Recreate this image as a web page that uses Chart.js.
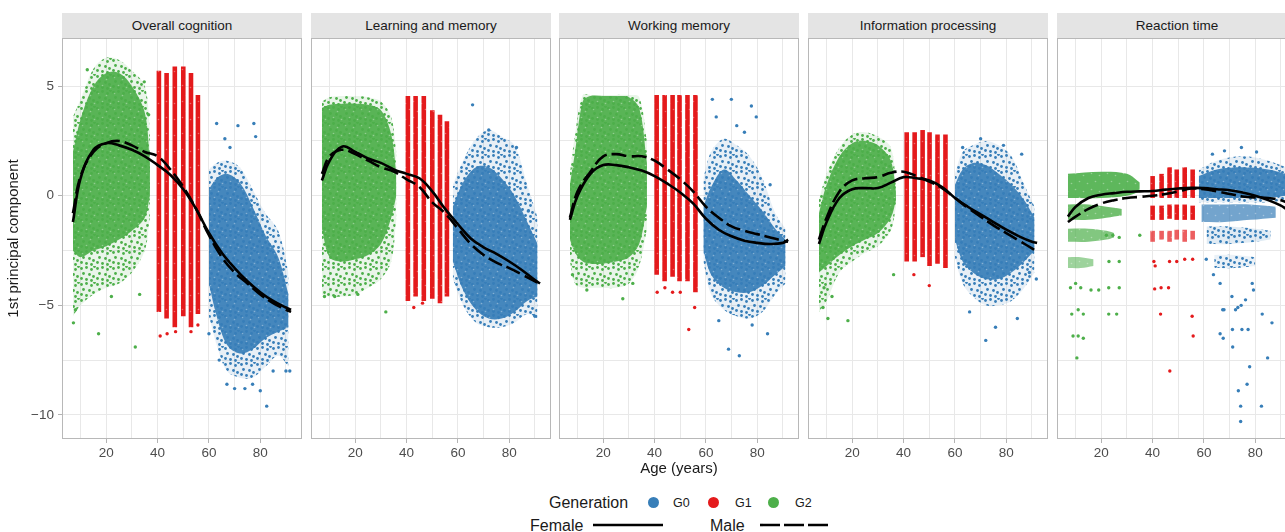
<!DOCTYPE html>
<html>
<head>
<meta charset="utf-8">
<script src="https://cdn.jsdelivr.net/npm/chart.js@4.4.1/dist/chart.umd.min.js"></script>
<style>
html, body { margin:0; padding:0; overflow:hidden; }
body { width:1285px; height:532px; position:relative; background:#fff; font-family:"Liberation Sans", Arial, sans-serif; color:#1a1a1a; }
canvas { position:absolute; }
.strip { position:absolute; top:13px; height:25px; width:240px; background:#e4e4e4; font-size:13.5px; line-height:25px; text-align:center; color:#1a1a1a; }
.txt { position:absolute; white-space:nowrap; }
.dot { position:absolute; width:11px; height:11px; border-radius:50%; }
</style>
</head>
<body>
<script>
// x positions where the smooth lines were read
const lineAges = [7, 10, 15, 20, 25, 30, 35, 40, 45, 50, 55, 60, 65, 70, 75, 80, 85, 90, 92];

// ---- Overall cognition ----
const ocFemale = [-1.2, 0.8, 2.1, 2.4, 2.3, 2.1, 1.8, 1.4, 0.95, 0.3, -0.6, -1.7, -2.6, -3.3, -3.9, -4.4, -4.8, -5.1, -5.2];
const ocMale   = [-0.8, 0.9, 2.0, 2.4, 2.5, 2.3, 2.0, 1.8, 1.2, 0.4, -0.6, -1.8, -2.8, -3.5, -4.0, -4.5, -4.9, -5.2, -5.3];
const ocG2Age = [7, 10, 15, 20, 25, 30, 35, 37];
const ocG2Hi = [3.6, 4.4, 5.8, 6.3, 6.2, 5.7, 5.0, 3.0];
const ocG2Lo = [-5.5, -5.0, -4.5, -4.2, -4.0, -3.5, -2.5, -1.0];
const ocG2CoreHi = [2.0, 3.5, 5.0, 5.6, 5.6, 5.0, 3.8, 1.5];
const ocG2CoreLo = [-2.5, -2.8, -2.5, -2.3, -2.0, -1.6, -1.0, 0.0];
const ocG1Age = [40.5, 43.5, 46.7, 50, 53, 55.7];
const ocG1Hi = [5.7, 5.6, 5.9, 5.9, 5.6, 4.6];
const ocG1Lo = [-5.3, -5.6, -6.0, -5.5, -6.0, -5.4];
const ocG0Age = [60, 63, 67, 72, 77, 82, 87, 91];
const ocG0Hi = [1.2, 1.5, 1.6, 1.3, 0.3, -0.8, -1.6, -3.5];
const ocG0Lo = [-5.5, -6.8, -8.0, -8.3, -8.3, -7.8, -7.3, -7.8];
const ocG0CoreHi = [0.3, 0.8, 1.0, 0.6, -0.5, -1.8, -2.8, -4.5];
const ocG0CoreLo = [-4.0, -5.5, -6.8, -7.2, -7.0, -6.5, -6.2, -6.0];
const ocG2Out = [[7.2, -5.8], [8, -5.2], [17, -6.3], [31.3, -6.9], [12.6, 5.75], [34.8, 5.2], [36.5, 3.7], [33, -4.5], [22, -4.6]];
const ocG1Out = [[41, -6.4], [43.7, -6.3], [53, -6.2], [47, -6.2], [55.7, -5.9]];
const ocG0Out = [[63, 3.3], [71.3, 3.2], [77.5, 3.3], [78.2, 2.7], [66.2, 2.6], [68.2, 2.2], [67, -8.6], [70, -8.8], [74, -8.8], [77, -8.6], [80, -8.9], [82.5, -9.6], [85, -8.0], [90, -8.0], [91.5, -8.0], [64, -7.5], [60, -6.3]];

// ---- Learning and memory ----
const lmFemale = [0.7, 1.6, 2.25, 2.0, 1.7, 1.5, 1.2, 1.0, 0.8, 0.2, -0.6, -1.3, -1.95, -2.35, -2.65, -3.0, -3.4, -3.85, -4.0];
const lmMale   = [1.0, 1.8, 2.1, 1.9, 1.6, 1.3, 1.1, 0.75, 0.4, -0.3, -0.8, -1.5, -2.2, -2.7, -3.05, -3.3, -3.6, -3.9, -4.0];
const lmG2Age = [7, 10, 15, 20, 25, 30, 34, 36];
const lmG2Hi = [4.3, 4.5, 4.55, 4.55, 4.5, 4.3, 3.6, 2.0];
const lmG2Lo = [-4.5, -4.6, -4.6, -4.5, -4.2, -3.8, -3.0, -1.0];
const lmG2CoreHi = [4.0, 4.15, 4.2, 4.2, 4.15, 3.9, 2.8, 1.0];
const lmG2CoreLo = [-1.5, -2.8, -3.0, -2.9, -2.7, -2.2, -1.0, 0.0];
const lmG1Age = [40.5, 43.5, 46.7, 50, 53, 55.7];
const lmG1Hi = [4.55, 4.55, 4.55, 3.9, 3.7, 3.4];
const lmG1Lo = [-4.8, -4.6, -4.8, -4.7, -4.9, -4.6];
const lmG0Age = [58, 62, 67, 72, 77, 82, 87, 91];
const lmG0Hi = [0.5, 1.6, 2.6, 3.0, 2.7, 2.3, 0.5, -1.0];
const lmG0Lo = [-3.8, -5.0, -5.8, -6.0, -6.0, -5.8, -5.4, -5.6];
const lmG0CoreHi = [-0.5, 0.6, 1.3, 1.3, 0.8, 0.0, -1.2, -2.2];
const lmG0CoreLo = [-3.0, -4.3, -5.2, -5.6, -5.6, -5.3, -4.8, -4.6];
const lmG2Out = [[31.9, -5.3], [8, -4.6], [12, -4.6], [21, -4.5]];
const lmG1Out = [[42.8, -5.1], [46.2, -4.9]];
const lmG0Out = [[65.7, 4.15], [72, 3.0], [82.8, 2.2], [87.4, -0.7], [90, -5.5]];

// ---- Working memory ----
const wmFemale = [-1.1, 0.0, 1.0, 1.4, 1.4, 1.3, 1.15, 0.9, 0.55, 0.15, -0.35, -1.05, -1.55, -1.85, -2.05, -2.15, -2.2, -2.15, -2.0];
const wmMale   = [-1.0, 0.2, 1.1, 1.8, 1.9, 1.8, 1.8, 1.6, 1.2, 0.75, 0.2, -0.5, -1.0, -1.4, -1.6, -1.75, -1.9, -2.05, -2.1];
const wmG2Age = [7, 9, 12, 15, 20, 25, 30, 34, 37];
const wmG2Hi = [1.0, 2.8, 4.6, 4.6, 4.6, 4.6, 4.6, 4.5, 2.5];
const wmG2Lo = [-3.0, -4.0, -4.2, -4.2, -4.2, -4.2, -4.0, -3.2, -1.5];
const wmG2CoreHi = [0.5, 2.0, 4.3, 4.55, 4.55, 4.55, 4.5, 4.0, 1.5];
const wmG2CoreLo = [-2.0, -2.6, -3.0, -3.1, -3.1, -3.0, -2.8, -2.2, -0.5];
const wmG1Age = [40.8, 43.9, 47, 49.7, 52.8, 55.9];
const wmG1Hi = [4.6, 4.6, 4.6, 4.6, 4.6, 4.6];
const wmG1Lo = [-3.6, -3.9, -3.7, -3.9, -3.9, -4.4];
const wmG0Age = [59, 62, 67, 72, 77, 82, 87, 91];
const wmG0Hi = [0.8, 2.0, 2.6, 2.3, 1.8, 0.8, -0.8, -1.5];
const wmG0Lo = [-3.0, -4.5, -5.2, -5.5, -5.6, -5.3, -4.5, -4.0];
const wmG0CoreHi = [-0.5, 0.4, 1.2, 0.7, 0.0, -0.7, -1.5, -2.0];
const wmG0CoreLo = [-2.5, -3.6, -4.2, -4.4, -4.4, -4.1, -3.6, -3.2];
const wmG2Out = [[27.6, -4.7], [13.6, -4.3], [31.5, -4.0], [8, -3.6]];
const wmG1Out = [[53.3, -6.1], [55.6, -5.1], [41, -4.4], [44, -4.2], [47, -4.4], [50, -4.4]];
const wmG0Out = [[62.5, 4.4], [69.9, 4.4], [77.7, 4.1], [79.6, 3.6], [64, 3.6], [72, 3.2], [75, 2.9], [85, 0.5], [68.8, -7.0], [73, -7.3], [84, -6.3], [65, -5.7], [78, -5.9]];

// ---- Information processing ----
const ipFemale = [-2.2, -1.2, -0.1, 0.3, 0.35, 0.35, 0.6, 0.85, 0.8, 0.7, 0.4, -0.1, -0.5, -0.85, -1.2, -1.55, -1.85, -2.1, -2.15];
const ipMale   = [-2.0, -1.0, 0.2, 0.7, 0.8, 0.85, 1.05, 1.1, 0.9, 0.65, 0.35, -0.1, -0.55, -0.95, -1.35, -1.7, -2.05, -2.4, -2.55];
const ipG2Age = [7, 10, 15, 20, 25, 30, 35, 37];
const ipG2Hi = [-0.2, 1.0, 2.2, 2.8, 2.9, 2.7, 2.2, 0.5];
const ipG2Lo = [-5.3, -4.8, -3.5, -3.0, -2.6, -2.3, -1.6, -0.5];
const ipG2CoreHi = [-0.8, 0.5, 1.8, 2.4, 2.5, 2.3, 1.6, 0.2];
const ipG2CoreLo = [-3.5, -3.2, -2.7, -2.3, -2.0, -1.7, -1.0, -0.2];
const ipG1Age = [41.2, 44.3, 47.4, 50.1, 53.2, 56.3];
const ipG1Hi = [2.9, 2.9, 3.0, 2.9, 2.8, 2.8];
const ipG1Lo = [-3.0, -3.0, -2.8, -3.2, -3.1, -3.3];
const ipG0Age = [60, 63, 67, 72, 77, 82, 87, 91];
const ipG0Hi = [1.0, 2.0, 2.3, 2.5, 2.3, 1.8, 0.5, -0.5];
const ipG0Lo = [-2.8, -4.0, -4.6, -5.0, -5.0, -4.8, -4.2, -3.5];
const ipG0CoreHi = [0.5, 1.2, 1.5, 1.4, 1.0, 0.5, -0.2, -1.0];
const ipG0CoreLo = [-2.0, -3.0, -3.5, -3.8, -3.8, -3.5, -3.0, -2.5];
const ipG2Out = [[10.5, -5.6], [18.3, -5.7], [12.1, -4.6], [8.6, -5.1], [36.1, -3.6], [9, -4.2]];
const ipG1Out = [[50, -4.1], [44, -3.6]];
const ipG0Out = [[72, -6.6], [75.8, -6.0], [84.3, -5.6], [65.7, -5.3], [91.7, -3.8], [70, 2.6], [78.9, 2.3], [63, 2.2], [86, 1.9], [89, -3.5]];

// ---- Reaction time ----
const rtFemale = [-0.95, -0.5, -0.1, 0.05, 0.12, 0.18, 0.2, 0.22, 0.28, 0.33, 0.36, 0.35, 0.3, 0.25, 0.15, 0.0, -0.2, -0.45, -0.6];
const rtMale   = [-1.2, -0.95, -0.6, -0.35, -0.2, -0.1, -0.05, 0.0, 0.08, 0.2, 0.33, 0.3, 0.2, 0.08, -0.03, -0.08, -0.1, -0.2, -0.3];
const rtG2TopAge = [7, 20, 30, 35];
const rtG2TopHi = [1.0, 1.1, 1.0, 0.6];
const rtG2TopLo = [-0.1, -0.1, 0.0, 0.2];
const rtG2MidAge = [7, 15, 22, 28];
const rtG2MidHi = [-0.4, -0.4, -0.5, -0.6];
const rtG2MidLo = [-1.1, -1.1, -1.0, -0.9];
const rtG2LowAge = [7, 15, 22, 25];
const rtG2LowHi = [-1.5, -1.5, -1.6, -1.7];
const rtG2LowLo = [-2.1, -2.1, -2.0, -1.9];
const rtG2BotAge = [7, 12, 17];
const rtG2BotHi = [-2.8, -2.8, -2.9];
const rtG2BotLo = [-3.3, -3.3, -3.2];
const rtG1Age = [40, 43.5, 46.6, 49.4, 52.5, 55.6];
const rtG1TopHi = [0.9, 1.0, 1.3, 1.2, 1.3, 1.2];
const rtG1TopLo = [-0.1, -0.1, -0.1, -0.1, -0.1, -0.1];
const rtG1MidHi = [-0.45, -0.45, -0.4, -0.4, -0.4, -0.45];
const rtG1MidLo = [-1.1, -1.1, -1.05, -1.1, -1.1, -1.1];
const rtG1LowHi = [-1.6, -1.6, -1.6, -1.55, -1.55, -1.6];
const rtG1LowLo = [-2.1, -2.0, -2.1, -2.0, -2.1, -2.0];
const rtG0TopAge = [58, 65, 75, 85, 92];
const rtG0TopHi = [1.2, 1.6, 1.8, 1.6, 1.3];
const rtG0TopLo = [-0.3, -0.3, -0.3, -0.3, -0.2];
const rtG0CoreHi = [0.9, 1.2, 1.3, 1.2, 1.0];
const rtG0CoreLo = [-0.1, -0.1, -0.1, -0.1, 0.0];
const rtG0MidAge = [59, 68, 78, 88];
const rtG0MidHi = [-0.4, -0.4, -0.4, -0.5];
const rtG0MidLo = [-1.2, -1.2, -1.1, -1.0];
const rtG0LowAge = [61, 70, 80, 86];
const rtG0LowHi = [-1.4, -1.4, -1.5, -1.6];
const rtG0LowLo = [-2.2, -2.2, -2.1, -2.0];
const rtG0BotAge = [64, 72, 80];
const rtG0BotHi = [-2.7, -2.7, -2.8];
const rtG0BotLo = [-3.3, -3.3, -3.2];
const rtG2Out = [[22, -1.8], [24.5, -1.8], [27, -1.9], [35, -1.8], [23, -3.0], [27, -3.0], [8, -4.2], [10, -4.0], [12, -4.2], [16, -4.3], [19, -4.3], [22.9, -4.2], [27, -4.2], [22.9, -5.4], [26, -5.4], [8.5, -5.4], [11, -5.2], [13, -5.4], [9, -6.4], [11, -6.4], [13, -6.5], [10.5, -7.4]];
const rtG1Out = [[40.5, -3.0], [41, -3.2], [46.6, -3.0], [49.4, -3.0], [52.5, -2.9], [55.6, -2.9], [40.8, -4.25], [43.3, -4.2], [46.2, -4.2], [43.1, -5.4], [55.4, -5.5], [55.8, -6.4], [46.7, -8.0]];
const rtG0Out = [[68, 2.05], [74.6, 2.2], [63.3, 1.9], [80.5, 2.0], [60.9, -2.9], [63.7, -3.6], [66.3, -4.0], [70.9, -4.6], [73.2, -5.1], [76.2, -4.75], [74.5, -5.0], [79.3, -4.3], [78.8, -4.0], [67.3, -5.2], [67.8, -5.2], [72.3, -5.2], [82.7, -5.4], [86.5, -5.8], [71.1, -6.1], [74.8, -6.1], [77.2, -6.1], [66.3, -6.3], [67.5, -6.5], [71.2, -6.9], [84.8, -7.4], [77.8, -7.8], [76.8, -8.6], [73.4, -8.9], [82.4, -9.6], [74.3, -9.6], [74.3, -10.3]];

// axis ticks
const xGrid = [10, 20, 30, 40, 50, 60, 70, 80, 90];
const xLabels = [20, 40, 60, 80];
const yGrid = [-10, -7.5, -5, -2.5, 0, 2.5, 5];
const yLabels = [-10, -5, 0, 5];

const G0 = '#377eb8', G1 = '#e41a1c', G2 = '#4daf4a';
const OUTER = 0.35, CORE = 0.92;
const FONT = '"Liberation Sans", Arial, sans-serif';

const panels = [
  { title: 'Overall cognition', female: ocFemale, male: ocMale,
    bands: [[ocG2Age, ocG2Hi, ocG2Lo, G2, OUTER], [ocG2Age, ocG2CoreHi, ocG2CoreLo, G2, CORE],
            [ocG0Age, ocG0Hi, ocG0Lo, G0, OUTER], [ocG0Age, ocG0CoreHi, ocG0CoreLo, G0, CORE]],
    stripes: [[ocG1Age, ocG1Hi, ocG1Lo, 1]],
    points: [[ocG2Out, G2], [ocG1Out, G1], [ocG0Out, G0]] },
  { title: 'Learning and memory', female: lmFemale, male: lmMale,
    bands: [[lmG2Age, lmG2Hi, lmG2Lo, G2, OUTER], [lmG2Age, lmG2CoreHi, lmG2CoreLo, G2, CORE],
            [lmG0Age, lmG0Hi, lmG0Lo, G0, OUTER], [lmG0Age, lmG0CoreHi, lmG0CoreLo, G0, CORE]],
    stripes: [[lmG1Age, lmG1Hi, lmG1Lo, 1]],
    points: [[lmG2Out, G2], [lmG1Out, G1], [lmG0Out, G0]] },
  { title: 'Working memory', female: wmFemale, male: wmMale,
    bands: [[wmG2Age, wmG2Hi, wmG2Lo, G2, OUTER], [wmG2Age, wmG2CoreHi, wmG2CoreLo, G2, CORE],
            [wmG0Age, wmG0Hi, wmG0Lo, G0, OUTER], [wmG0Age, wmG0CoreHi, wmG0CoreLo, G0, CORE]],
    stripes: [[wmG1Age, wmG1Hi, wmG1Lo, 1]],
    points: [[wmG2Out, G2], [wmG1Out, G1], [wmG0Out, G0]] },
  { title: 'Information processing', female: ipFemale, male: ipMale,
    bands: [[ipG2Age, ipG2Hi, ipG2Lo, G2, OUTER], [ipG2Age, ipG2CoreHi, ipG2CoreLo, G2, CORE],
            [ipG0Age, ipG0Hi, ipG0Lo, G0, OUTER], [ipG0Age, ipG0CoreHi, ipG0CoreLo, G0, CORE]],
    stripes: [[ipG1Age, ipG1Hi, ipG1Lo, 1]],
    points: [[ipG2Out, G2], [ipG1Out, G1], [ipG0Out, G0]] },
  { title: 'Reaction time', female: rtFemale, male: rtMale,
    bands: [[rtG2TopAge, rtG2TopHi, rtG2TopLo, G2, 0.9], [rtG2MidAge, rtG2MidHi, rtG2MidLo, G2, 0.8],
            [rtG2LowAge, rtG2LowHi, rtG2LowLo, G2, 0.7], [rtG2BotAge, rtG2BotHi, rtG2BotLo, G2, 0.55],
            [rtG0TopAge, rtG0TopHi, rtG0TopLo, G0, OUTER], [rtG0TopAge, rtG0CoreHi, rtG0CoreLo, G0, CORE],
            [rtG0MidAge, rtG0MidHi, rtG0MidLo, G0, 0.7], [rtG0LowAge, rtG0LowHi, rtG0LowLo, G0, 0.45],
            [rtG0BotAge, rtG0BotHi, rtG0BotLo, G0, 0.3]],
    stripes: [[rtG1Age, rtG1TopHi, rtG1TopLo, 1], [rtG1Age, rtG1MidHi, rtG1MidLo, 1], [rtG1Age, rtG1LowHi, rtG1LowLo, 0.7]],
    points: [[rtG2Out, G2], [rtG1Out, G1], [rtG0Out, G0]] }
];

const panelLeft = [62, 311, 559, 808, 1057];
const PLOT_W = 240, PLOT_H = 401, PLOT_TOP = 38, AXIS_H = 45, TOPPAD = 12, YAXIS_W = 62;

function rgba(hex, a) {
  const n = parseInt(hex.slice(1), 16);
  return 'rgba(' + (n >> 16) + ',' + ((n >> 8) & 255) + ',' + (n & 255) + ',' + a + ')';
}
function xy(xs, ys) { return xs.map((a, k) => ({ x: a, y: ys[k] })); }

// dotted fill so the clouds read like scatter, not flat shapes
const SPARSE_DOTS = [[1, 2], [6, 1], [11, 3], [14, 0], [3, 7], [9, 8], [13, 10], [1, 12], [6, 13], [11, 14]];
const CORE_HOLES = [[2, 3], [10, 5], [6, 11], [14, 13]];
function cloudPattern(hex, alpha) {
  const c = document.createElement('canvas');
  c.width = 16; c.height = 16;
  const g = c.getContext('2d');
  if (alpha >= 0.5) {
    g.fillStyle = rgba(hex, alpha);
    g.fillRect(0, 0, 16, 16);
    g.fillStyle = 'rgba(255,255,255,0.35)';
    CORE_HOLES.forEach(d => { g.beginPath(); g.arc(d[0] + 0.5, d[1] + 0.5, 0.8, 0, Math.PI * 2); g.fill(); });
  } else {
    g.fillStyle = rgba(hex, alpha * 0.35);
    g.fillRect(0, 0, 16, 16);
    g.fillStyle = hex;
    SPARSE_DOTS.forEach(d => { g.beginPath(); g.arc(d[0] + 0.5, d[1] + 0.5, 1.4, 0, Math.PI * 2); g.fill(); });
  }
  return g.createPattern(c, 'repeat');
}

const frame = {
  id: 'frame',
  afterDatasetsDraw(chart) {
    const { ctx, chartArea: a } = chart;
    ctx.save();
    ctx.strokeStyle = '#b8b8b8';
    ctx.lineWidth = 1;
    ctx.strokeRect(a.left + 0.5, a.top + 0.5, a.width - 1, a.height - 1);
    ctx.restore();
  }
};

function buildDatasets(p) {
  const ds = [];
  p.bands.forEach(b => {
    const order = b[4] < 0.5 ? 5 : 4;
    ds.push({ type: 'line', data: xy(b[0], b[1]), borderWidth: 0, borderColor: 'rgba(0,0,0,0)', pointRadius: 0, tension: 0.35, fill: false, order: order });
    ds.push({ type: 'line', data: xy(b[0], b[2]), borderWidth: 0, borderColor: 'rgba(0,0,0,0)', pointRadius: 0, tension: 0.35, fill: '-1', backgroundColor: cloudPattern(b[3], b[4]), order: order });
  });
  p.stripes.forEach(s => {
    ds.push({ type: 'bar', data: s[0].map((a, k) => ({ x: a, y: [s[2][k], s[1][k]] })), backgroundColor: cloudPattern(G1, s[3]),
      borderWidth: 0, grouped: false, maxBarThickness: 4.6, order: 3 });
  });
  p.points.forEach(pt => {
    ds.push({ type: 'scatter', data: pt[0].map(q => ({ x: q[0], y: q[1] })), pointRadius: 1.7, pointBorderWidth: 0,
      backgroundColor: pt[1], borderColor: pt[1], order: 2 });
  });
  ds.push({ type: 'line', data: xy(lineAges, p.female), borderColor: '#000', borderWidth: 2.6, pointRadius: 0, tension: 0.4, fill: false, order: 0 });
  ds.push({ type: 'line', data: xy(lineAges, p.male), borderColor: '#000', borderWidth: 2.6, borderDash: [15, 5], pointRadius: 0, tension: 0.4, fill: false, order: 0 });
  return ds;
}

function makePanel(i, p) {
  const first = i === 0;
  const strip = document.createElement('div');
  strip.className = 'strip';
  strip.style.left = panelLeft[i] + 'px';
  strip.textContent = p.title;
  document.body.appendChild(strip);

  const cv = document.createElement('canvas');
  const w = PLOT_W + (first ? YAXIS_W : 0);
  const h = TOPPAD + PLOT_H + AXIS_H;
  cv.width = w; cv.height = h;
  cv.style.width = w + 'px'; cv.style.height = h + 'px';
  cv.style.left = (panelLeft[i] - (first ? YAXIS_W : 0)) + 'px';
  cv.style.top = (PLOT_TOP - TOPPAD) + 'px';
  document.body.appendChild(cv);

  new Chart(cv, {
    type: 'scatter',
    data: { datasets: buildDatasets(p) },
    plugins: [frame],
    options: {
      responsive: false,
      animation: false,
      layout: { autoPadding: false, padding: { top: TOPPAD, left: 0, right: 0, bottom: 0 } },
      plugins: { legend: { display: false }, tooltip: { enabled: false } },
      scales: {
        x: {
          type: 'linear', min: 2.75, max: 96.25, offset: false,
          afterBuildTicks: s => { s.ticks = xGrid.map(v => ({ value: v })); },
          afterFit: s => { s.height = AXIS_H; },
          grid: { color: '#e8e8e8', offset: false, tickLength: 4,
            tickColor: c => xLabels.includes(c.tick && c.tick.value) ? '#b3b3b3' : 'rgba(0,0,0,0)' },
          border: { display: false },
          ticks: { padding: 2, color: '#4d4d4d', maxRotation: 0, autoSkip: false,
            font: { family: FONT, size: 13.5, lineHeight: '16px' },
            callback: v => xLabels.includes(v) ? String(v) : '' },
          title: { display: i === 2, text: 'Age (years)', color: '#1a1a1a',
            font: { family: FONT, size: 15, lineHeight: '18px' }, padding: { top: 0, bottom: 6 } }
        },
        y: {
          type: 'linear', min: -11.1, max: 7.2, stacked: false,
          afterBuildTicks: s => { s.ticks = yGrid.map(v => ({ value: v })); },
          afterFit: s => { s.width = first ? YAXIS_W : 0; },
          grid: { color: '#e8e8e8', tickLength: 4, drawTicks: first,
            tickColor: c => yLabels.includes(c.tick && c.tick.value) ? '#b3b3b3' : 'rgba(0,0,0,0)' },
          border: { display: false },
          ticks: { display: first, padding: 4, color: '#4d4d4d',
            font: { family: FONT, size: 13.5, lineHeight: '16px' },
            callback: v => yLabels.includes(v) ? String(v).replace('-', '\u2212') : '' },
          title: { display: first, text: '1st principal component', color: '#1a1a1a',
            font: { family: FONT, size: 15, lineHeight: '18px' }, padding: { top: 5, bottom: 0 } }
        }
      }
    }
  });
}

panels.forEach((p, i) => makePanel(i, p));

// legend (HTML)
function txt(s, x, y, size) {
  const d = document.createElement('div');
  d.className = 'txt';
  d.style.left = x + 'px'; d.style.top = y + 'px';
  d.style.fontSize = size + 'px'; d.style.lineHeight = size + 'px';
  d.textContent = s;
  document.body.appendChild(d);
}
function dot(color, cx, cy) {
  const d = document.createElement('div');
  d.className = 'dot';
  d.style.background = color;
  d.style.left = (cx - 5.5) + 'px'; d.style.top = (cy - 5.5) + 'px';
  document.body.appendChild(d);
}
txt('Generation', 549, 495, 16);
dot(G0, 653, 502); txt('G0', 673, 497, 12.5);
dot(G1, 713, 502); txt('G1', 735, 497, 12.5);
dot(G2, 773, 502); txt('G2', 795, 497, 12.5);
txt('Female', 530, 518, 16);
txt('Male', 710, 518, 16);
const svg = document.createElementNS('http://www.w3.org/2000/svg', 'svg');
svg.setAttribute('width', '1285'); svg.setAttribute('height', '532');
svg.style.position = 'absolute'; svg.style.left = '0'; svg.style.top = '0'; svg.style.pointerEvents = 'none';
svg.innerHTML = '<line x1="593" y1="525" x2="663" y2="525" stroke="#000" stroke-width="2.6"/>' +
  '<line x1="760" y1="525" x2="830" y2="525" stroke="#000" stroke-width="2.6" stroke-dasharray="20 4"/>';
document.body.appendChild(svg);
</script>
</body>
</html>
